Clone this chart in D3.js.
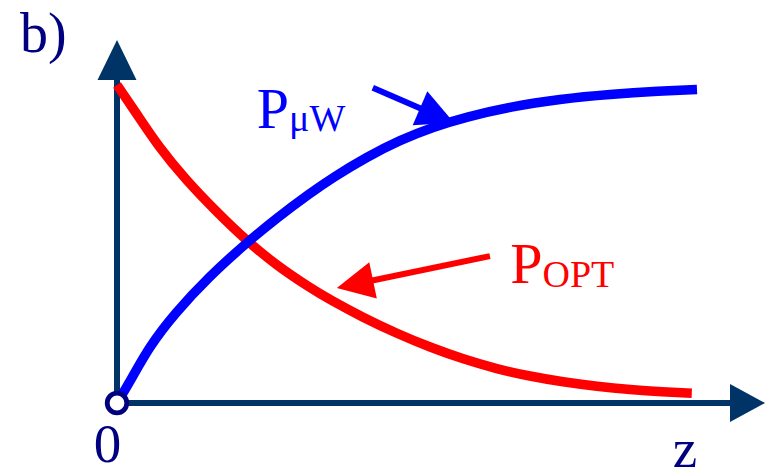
<!DOCTYPE html>
<html>
<head>
<meta charset="utf-8">
<script src="https://cdn.jsdelivr.net/npm/d3@7"></script>
<style>
  html, body { margin: 0; padding: 0; background: #fff; }
  svg { display: block; }
  text { font-family: "Liberation Serif", "Times New Roman", "DejaVu Serif", serif; }
</style>
</head>
<body>
<svg id="chart" width="765" height="470"></svg>
<script>
// Distance along the propagation axis (arbitrary units)
const blueZ = [0, 0.24, 0.55, 1.0, 1.59, 2.21, 2.76, 3.33, 3.72, 4.31, 4.88, 5.45, 6.03, 6.78, 7.64, 8.5, 9.36, 10];
// Microwave power, normalised
const blueP = [0, 0.072, 0.176, 0.283, 0.398, 0.5, 0.583, 0.66, 0.709, 0.774, 0.827, 0.868, 0.9, 0.932, 0.956, 0.971, 0.981, 0.986];

const redZ = [0, 0.33, 0.72, 1.19, 1.74, 2.22, 2.74, 3.33, 3.67, 4.24, 4.83, 5.4, 5.97, 6.55, 7.12, 7.69, 8.28, 8.85, 9.41, 9.91];
// Optical power, normalised
const redP = [1.0, 0.912, 0.805, 0.701, 0.597, 0.513, 0.434, 0.362, 0.325, 0.269, 0.218, 0.175, 0.138, 0.107, 0.084, 0.066, 0.052, 0.042, 0.035, 0.031];

// Annotation labels and their pointer arrows, in data units
const labels = [
  { main: "P", sub: "\u03bcW", z: 2.41, p: 0.865, color: "#0000ff" },
  { main: "P", sub: "OPT", z: 6.78, p: 0.377, color: "#ff0000" }
];
const pointers = [
  { from: [4.41, 0.991], to: [5.81, 0.881], color: "#0000ff" },
  { from: [6.43, 0.462], to: [3.79, 0.362], color: "#ff0000" }
];

const svg = d3.select("#chart");
const axisColor = "#003366";
const textColor = "#000080";

const x = d3.scaleLinear().domain([0, 10]).range([117, 697]);
const y = d3.scaleLinear().domain([0, 1]).range([403, 85]);

// Axes with arrow heads
const x0 = x(0), y0 = y(0);
svg.append("line")
  .attr("x1", x0).attr("y1", y0).attr("x2", x0).attr("y2", 80)
  .attr("stroke", axisColor).attr("stroke-width", 6);
svg.append("polygon")
  .attr("points", [[x0, 40], [x0 - 19.5, 80], [x0 + 19.5, 80]].map(d => d.join(",")).join(" "))
  .attr("fill", axisColor);
svg.append("line")
  .attr("x1", x0).attr("y1", y0).attr("x2", 731).attr("y2", y0)
  .attr("stroke", axisColor).attr("stroke-width", 6);
svg.append("polygon")
  .attr("points", [[765, y0], [730, y0 - 19], [730, y0 + 19]].map(d => d.join(",")).join(" "))
  .attr("fill", axisColor);

// Curves (B-spline through the sampled points for a smooth trace)
const line = d3.line()
  .x(d => x(d[0])).y(d => y(d[1]))
  .curve(d3.curveBasis);

svg.append("path")
  .datum(redZ.map((z, i) => [z, redP[i]]))
  .attr("d", line)
  .attr("fill", "none").attr("stroke", "#ff0000")
  .attr("stroke-width", 9.5).attr("stroke-linecap", "butt");

svg.append("path")
  .datum(blueZ.map((z, i) => [z, blueP[i]]))
  .attr("d", line)
  .attr("fill", "none").attr("stroke", "#0000ff")
  .attr("stroke-width", 9.5).attr("stroke-linecap", "butt");

// Origin marker
svg.append("circle")
  .attr("cx", x0).attr("cy", y0).attr("r", 9.8)
  .attr("fill", "#fff").attr("stroke", textColor).attr("stroke-width", 4.8);

// Pointer arrows
pointers.forEach(a => {
  const sx = x(a.from[0]), sy = y(a.from[1]);
  const tx = x(a.to[0]), ty = y(a.to[1]);
  const len = Math.hypot(tx - sx, ty - sy);
  const ux = (tx - sx) / len, uy = (ty - sy) / len;
  const headLen = 37, half = 18.5;
  const bx = tx - ux * headLen, by = ty - uy * headLen;
  svg.append("line")
    .attr("x1", sx).attr("y1", sy).attr("x2", bx + ux * 2).attr("y2", by + uy * 2)
    .attr("stroke", a.color).attr("stroke-width", 6);
  svg.append("polygon")
    .attr("points", [[tx, ty], [bx - uy * half, by + ux * half], [bx + uy * half, by - ux * half]]
      .map(d => d.join(",")).join(" "))
    .attr("fill", a.color);
});

// Curve labels
labels.forEach(l => {
  const t = svg.append("text")
    .attr("x", x(l.z)).attr("y", y(l.p))
    .attr("fill", l.color).attr("font-size", 58);
  t.append("tspan").text(l.main);
  t.append("tspan").attr("font-size", 38).attr("dy", 3.5).text(l.sub);
});

// Panel tag and axis labels
svg.append("text").attr("x", 20).attr("y", 52)
  .attr("fill", textColor).attr("font-size", 56).text("b)");
svg.append("text").attr("x", 107.5).attr("y", 462).attr("text-anchor", "middle")
  .attr("fill", textColor).attr("font-size", 55).text("0");
svg.append("text").attr("x", 685).attr("y", 467).attr("text-anchor", "middle")
  .attr("fill", textColor).attr("font-size", 55).text("z");
</script>
</body>
</html>
